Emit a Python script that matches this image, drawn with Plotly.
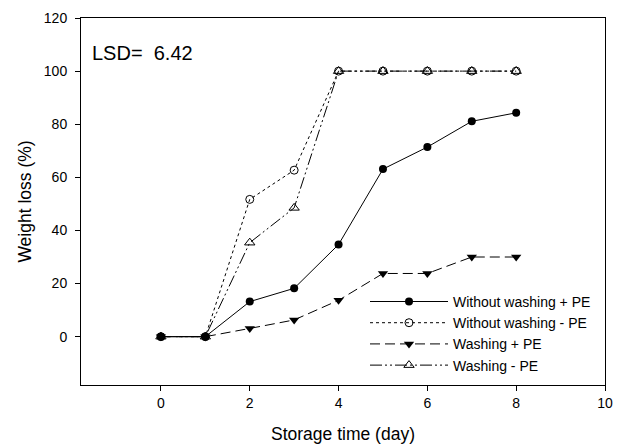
import plotly.graph_objects as go

days = [0, 1, 2, 3, 4, 5, 6, 7, 8]
without_wash_pe = [0, 0, 13.2, 18.2, 34.7, 63.1, 71.4, 81.1, 84.3]
without_wash_nope = [0, 0, 51.7, 62.7, 100, 100, 100, 100, 100]
wash_pe = [0, 0, 3.1, 6.3, 13.7, 23.8, 23.8, 30.0, 30.0]
wash_nope = [0, 0, 35.4, 48.5, 100, 100, 100, 100, 100]
names = ["Without washing + PE", "Without washing - PE", "Washing + PE", "Washing - PE"]
x_ticks = [0, 2, 4, 6, 8, 10]
y_ticks = [0, 20, 40, 60, 80, 100, 120]

FONT = "Liberation Sans, Arial, sans-serif"

fig = go.Figure()
styles = [
    (without_wash_pe, "solid", dict(symbol="circle", color="black", size=8)),
    (without_wash_nope, "dot", dict(symbol="circle-open", color="black", size=8, line=dict(width=1))),
    (wash_pe, "10px,5px", dict(symbol="triangle-down", color="black", size=9)),
    (wash_nope, "12px,3px,2px,3px,2px,3px", dict(symbol="triangle-up-open", color="black", size=9, line=dict(width=1))),
]
for nm, (vals, dash, mk) in zip(names, styles):
    fig.add_trace(go.Scatter(
        x=days, y=vals, name=nm, mode="lines+markers",
        line=dict(color="black", width=1, dash=dash),
        marker=mk,
    ))

fig.add_annotation(
    x=0, y=1, xref="paper", yref="paper", xanchor="left", yanchor="middle",
    xshift=9, yshift=-34.5, text="LSD=  6.42", showarrow=False,
    font=dict(family=FONT, size=20, color="black"),
)

fig.update_layout(
    width=621, height=447,
    margin=dict(l=81, r=16, t=18, b=62),
    paper_bgcolor="white", plot_bgcolor="white",
    font=dict(family=FONT, size=14, color="black"),
    showlegend=True,
    legend=dict(
        x=0.542, y=0.27, xanchor="left", yanchor="top",
        bgcolor="rgba(0,0,0,0)", font=dict(family=FONT, size=14, color="black"),
        itemwidth=78, tracegroupgap=0,
    ),
    xaxis=dict(
        range=[-1.8, 10], tickvals=x_ticks, ticks="outside", ticklen=5,
        showline=True, linecolor="black", linewidth=1, mirror=True,
        showgrid=False, zeroline=False, tickcolor="black", automargin=False,
        title=dict(text="Storage time (day)", font=dict(family=FONT, size=17.5), standoff=17),
        tickfont=dict(family=FONT, size=14),
    ),
    yaxis=dict(
        range=[-18.2, 120], tickvals=y_ticks, ticks="outside", ticklen=5,
        showline=True, linecolor="black", linewidth=1, mirror=True,
        showgrid=False, zeroline=False, tickcolor="black", automargin=False,
        ticklabelstandoff=5,
        title=dict(text="Weight loss (%)", font=dict(family=FONT, size=17.5), standoff=7),
        tickfont=dict(family=FONT, size=14),
    ),
)

fig.write_html(
    "out.html",
    config={"displayModeBar": False},
    post_script="document.body.style.margin='0';document.body.style.padding='0';",
)
